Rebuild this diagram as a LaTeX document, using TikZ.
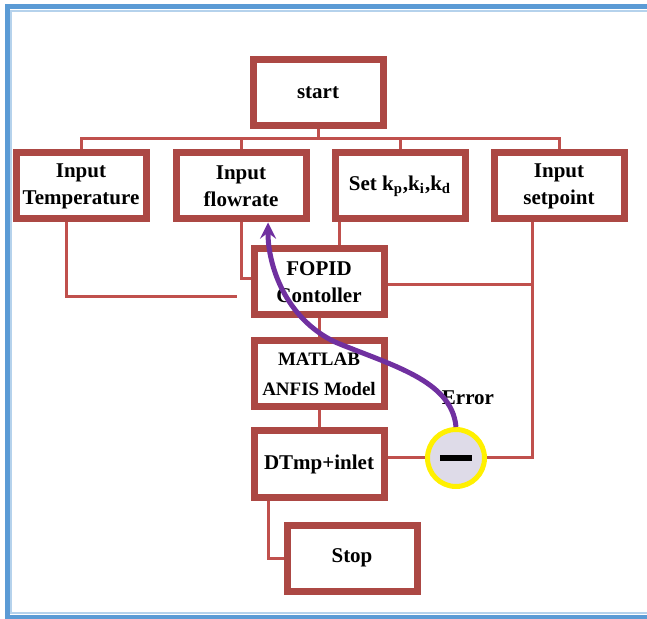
\documentclass[tikz,border=0pt]{standalone}
\usepackage{fontspec}
\setmainfont{Liberation Serif}
\usetikzlibrary{shadows}
\definecolor{boxred}{RGB}{172,72,68}
\definecolor{linkred}{RGB}{192,80,77}
\definecolor{errpurple}{RGB}{112,48,160}
\definecolor{frameblue}{RGB}{91,155,213}
\definecolor{circfill}{RGB}{222,219,232}
\definecolor{circyellow}{RGB}{255,240,0}
\tikzset{bx/.style = {rectangle, draw=boxred, line width=3.5pt, fill=white,
                      minimum width=65pt, minimum height=33pt, inner sep=1pt,
                      align=center, font=\bfseries\fontsize{10.5}{13.5}\selectfont,
                      drop shadow={shadow xshift=1pt, shadow yshift=-1pt, opacity=0.3}},
         ln/.style = {draw=linkred, line width=1.5pt},
         mn/.style = {circle, draw=circyellow, line width=2.5pt, fill=circfill,
                      minimum size=28.5pt, inner sep=0pt},
         lb/.style = {font=\bfseries\fontsize{10.5}{13}\selectfont}}

\begin{document}
\begin{tikzpicture}[x=0.5pt, y=-0.5pt, >=stealth]
    \useasboundingbox (0,0) rectangle (647,619);
    % frame
    \draw[frameblue!45, line width=1pt] (647,11) -- (11,11) -- (11,613) -- (647,613);
    \draw[frameblue, line width=2.5pt] (647,7) -- (7,7) -- (7,617) -- (647,617);
    % boxes
    \node[bx] (st) at (318,93) {start};
    \node[bx] (tp) at (81,186) {Input\\Temperature};
    \node[bx] (fr) at (241,186) {Input\\flowrate};
    \node[bx] (kk) at (400,186) {Set k\textsubscript{p},k\textsubscript{i},k\textsubscript{d}};
    \node[bx] (sp) at (559,186) {Input\\setpoint};
    \node[bx] (fo) at (319,282) {FOPID\\Contoller};
    \node[bx, font=\bfseries\fontsize{9.5}{12}\selectfont] (ma) at (319,374) {MATLAB\\[3pt]ANFIS Model};
    \node[bx] (dt) at (319,464) {DTmp+inlet};
    \node[bx] (sto) at (352,558) {Stop};
    \node[mn] (mi) at (456,458) {};
    \node[lb] (er) at (468,398) {Error};
    \draw[line width=3pt, line cap=butt] ([xshift=-8pt]mi.center) -- ([xshift=8pt]mi.center);
    % bus from start
    \coordinate (bus) at (318,139);
    \draw[ln] (st.south) -- (bus);
    \draw[ln] (tp.north) -- (tp.north |- bus) -- (sp.north |- bus) -- (sp.north);
    \draw[ln] (fr.north) -- (fr.north |- bus);
    \draw[ln] (kk.north) -- (kk.north |- bus);
    % inputs to controller
    \draw[ln] ([xshift=-7.5pt]tp.south) |- ([xshift=-7pt, yshift=-7.5pt]fo.west);
    \draw[ln] (fr.south) |- ([yshift=1.5pt]fo.west);
    \coordinate (kx) at ([xshift=-30.5pt]kk.south);
    \draw[ln] (kx) -- (kx |- fo.north);
    \coordinate (sx) at ([xshift=-13.5pt]sp.south);
    \draw[ln] (sx) |- (mi.east);
    \coordinate (fout) at ([yshift=-1.5pt]fo.east);
    \draw[ln] (fout) -- (sx |- fout);
    % chain
    \draw[ln] (fo.south) -- (ma.north);
    \draw[ln] (ma.south) -- (dt.north);
    \draw[ln] (mi.west) -- (mi.west -| dt.east);
    \draw[ln] ([xshift=-25.5pt]dt.south) |- (sto.west);
    % error feedback
    \draw[->, errpurple, line width=2.5pt] (mi.north) .. controls (452,380) and (390,365) .. (335,342)
        .. controls (285,318) and (268,265) .. ([xshift=13.5pt]fr.south);
\end{tikzpicture}
\end{document}
